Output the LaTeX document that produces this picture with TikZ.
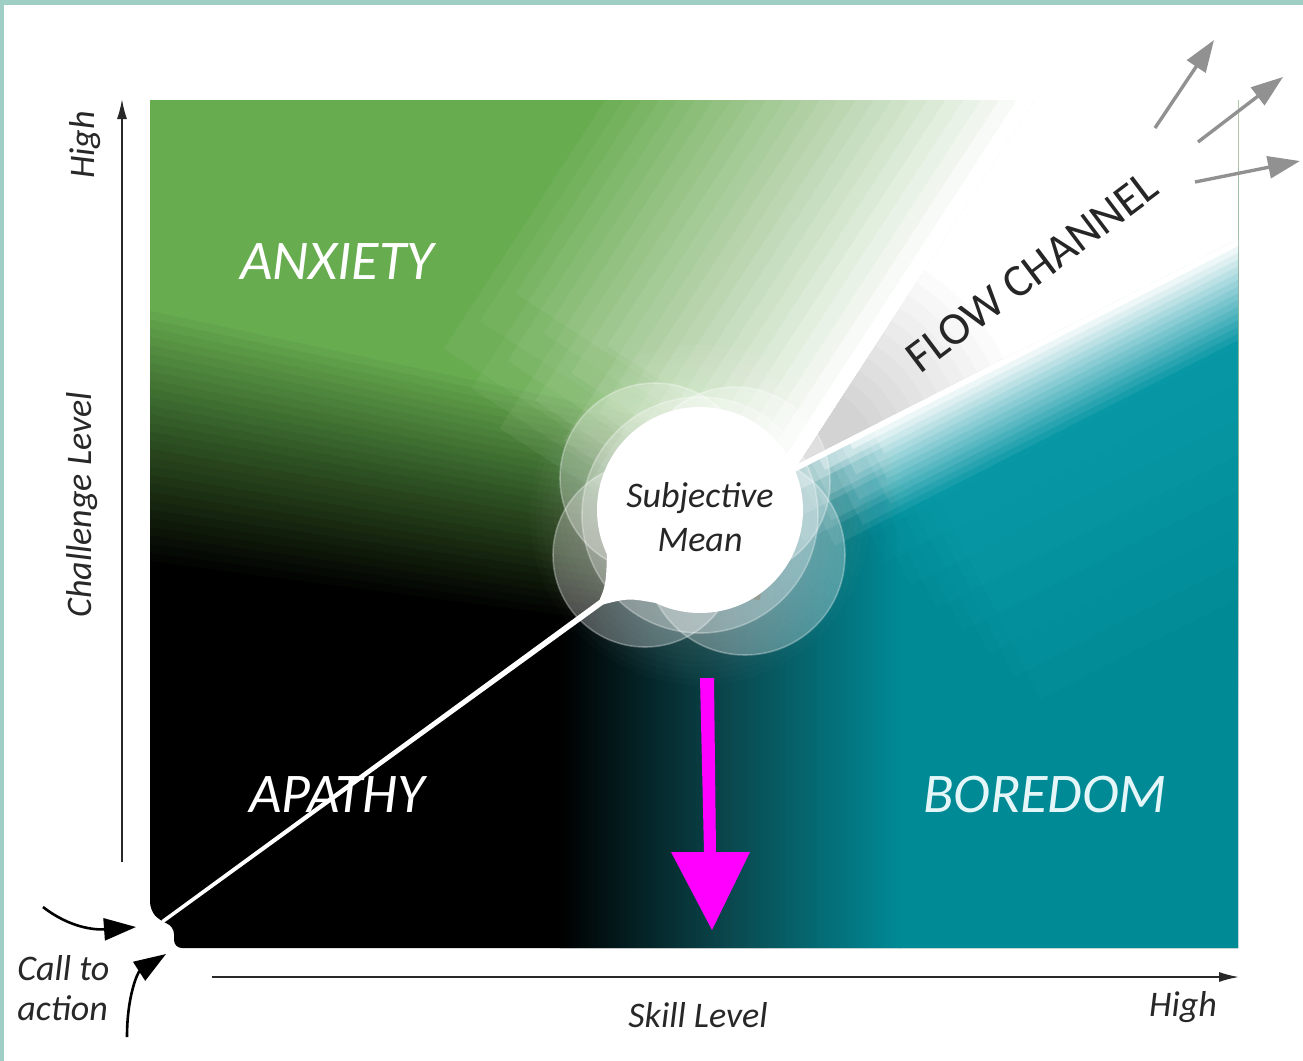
\documentclass[tikz,border=0pt]{standalone}
\usepackage{fontspec}
\setmainfont{Carlito}
\usetikzlibrary{arrows.meta}
\definecolor{greenc}{RGB}{104,172,80}
\definecolor{tealc}{RGB}{0,138,150}
\definecolor{tealdark}{RGB}{10,72,78}
\definecolor{tealglow}{RGB}{30,180,196}
\definecolor{framec}{RGB}{158,206,196}
\definecolor{axisc}{RGB}{40,40,40}
\definecolor{greyarrow}{RGB}{145,145,145}
\definecolor{boreC}{RGB}{228,246,248}
\definecolor{magentac}{RGB}{255,0,255}
\begin{document}
\begin{tikzpicture}[x=0.5pt,y=-0.5pt,
  axislbl/.style={text=axisc,font=\fontsize{18}{20}\selectfont\itshape,inner sep=0pt},
  zonelbl/.style={font=\fontsize{28}{30}\selectfont\itshape,inner sep=0pt},
  axisarrow/.style={draw=axisc,line width=0.8pt,-{Latex[length=10pt,width=5pt]}},
  callarrow/.style={draw=black,line width=1.3pt,-{Triangle[length=16pt,width=11pt]}},
  greyarr/.style={draw=greyarrow,line width=1.7pt,-{Triangle[length=16pt,width=11pt]}},
  cloud/.style={fill=white,fill opacity=0.28,draw=white,draw opacity=0.3,line width=0.8pt},
]
\useasboundingbox (0,0) rectangle (1303,1061);
\fill[white] (0,0) rectangle (1303,1061);
\fill[framec] (0,0) rectangle (1303,5);
\fill[framec] (0,0) rectangle (4,1061);

% ---------- chart body ----------
\begin{scope}
\clip (150,100) -- (1238,100) -- (1238,948) -- (600,948) [rounded corners=4pt] -- (174,948) -- (174,926) -- (160,921) -- (150,910) -- (150,850) [sharp corners] -- cycle;
\fill[black] (140,90) rectangle (1250,960);
% green, fading to black along a slanted band
\foreach \j in {1,...,30} {
  \pgfmathsetmacro\op{1/(31-\j)}
  \pgfmathsetmacro\f{(31-\j)/30}
  \pgfmathsetmacro\yl{300+260*\f}
  \pgfmathsetmacro\yr{\yl+(100-40*\f)*2.413}
  \fill[greenc,opacity=\op] (140,90) -- (1250,90) -- (1250,\yr) -- (140,\yl) -- cycle;
}
% teal part
\begin{scope}
\clip (470,698) -- (625,585) -- (760,600) -- (780,450) -- (1250,160) -- (1250,960) -- (470,960) -- cycle;
\shade[left color=black, right color=tealc, middle color=tealdark] (560,200) rectangle (900,960);
\fill[tealc] (899,150) rectangle (1250,960);
% lighter teal near the channel
\begin{scope}[shift={(799,463)},rotate=27]
\foreach \k in {1,...,10} {
  \pgfmathsetmacro\w{320*\k/10}
  \fill[tealglow,opacity=0.06] ({-20+0.4*\w},0) rectangle (1000,\w);
}
\end{scope}
\end{scope}
% glow round the bubble
\foreach \r in {110,116,...,170} \fill[white,opacity=0.015] (700,515) circle[radius=\r];
% whitening of the green side of the channel
\begin{scope}[shift={(799,463)},rotate=57]
\foreach \j in {1,...,24} {
  \pgfmathsetmacro\op{1/(25-\j)}
  \pgfmathsetmacro\w{360*(25-\j)/24}
  \pgfmathsetmacro\s{-140+mod(7*\j,24)*140/23}
  \fill[white,opacity=\op] (\s,0) rectangle (1000,-\w);
}
\end{scope}
% whitening of the teal side of the channel, core, stem
\begin{scope}[shift={(799,463)},rotate=27]
\foreach \j in {1,...,15} {
  \pgfmathsetmacro\op{1/(16-\j)}
  \pgfmathsetmacro\w{90*(16-\j)/15}
  \pgfmathsetmacro\s{-40+mod(4*\j,15)*120/14}
  \fill[white,opacity=\op] (\s,0) rectangle (1000,\w);
}
\fill[white] (0,0) -- (1400,0) -- (1400,-808.3) -- cycle;
\clip (0,0) -- (1400,0) -- (1400,-808.3) -- cycle;
\foreach \r in {80,95,...,230} \fill[black,opacity=0.016] (0,0) circle[radius=\r];
\end{scope}
\end{scope}

% ---------- subjective mean bubble ----------
\draw[cloud] (655,478) circle[radius=95];
\draw[cloud] (735,482) circle[radius=95];
\draw[cloud] (645,555) circle[radius=92];
\draw[cloud] (745,555) circle[radius=100];
\draw[cloud] (700,515) circle[radius=118];
\fill[white] (700,510) circle[radius=103];
\fill[white] (607,554) .. controls (606,585) .. (597,606) .. controls (628,598) .. (656,603) -- (700,510) -- cycle;
% diagonal line
\coordinate (L1) at (625,585);
\coordinate (L0) at (163,922);
\fill[white] (626.8,587.4) -- (162.5,923.8) -- (161.5,920.2) -- (623.2,582.6) -- cycle;
\node[font=\fontsize{18}{22}\selectfont\itshape,align=center,text=black!85] (subj) at (700,517) {Subjective\\Mean};

% ---------- zone labels ----------
\node[zonelbl,text=white] (anx) at (337,262) {ANXIETY};
\node[zonelbl,text=white] (apa) at (337,795) {APATHY};
\node[zonelbl,text=boreC] (bor) at (1045,795) {BOREDOM};
\node[font=\fontsize{23}{25}\selectfont,rotate=37,text=black!85] (flow) at (1032,272) {FLOW CHANNEL};

% ---------- magenta arrow ----------
\fill[magentac] (700,678) -- (714,678) -- (716,852) -- (750,852) -- (712,930) -- (671,852) -- (704,852) -- cycle;

% ---------- grey arrows ----------
\coordinate (g1a) at (1155,128); \coordinate (g1b) at (1214,40);
\coordinate (g2a) at (1198,142); \coordinate (g2b) at (1283,77);
\coordinate (g3a) at (1195,182); \coordinate (g3b) at (1300,161);
\draw[greyarr] (g1a) -- (g1b);
\draw[greyarr] (g2a) -- (g2b);
\draw[greyarr] (g3a) -- (g3b);

% ---------- axes ----------
\coordinate (ya0) at (122,862); \coordinate (ya1) at (122,99);
\coordinate (xa0) at (212,977); \coordinate (xa1) at (1239,977);
\draw[axisarrow] (ya0) -- (ya1);
\draw[axisarrow] (xa0) -- (xa1);
\node[axislbl,rotate=90] (high1) at (85,145) {High};
\node[axislbl,rotate=90] (chal) at (82,505) {Challenge Level};
\node[axislbl] (skill) at (698,1015) {Skill Level};
\node[axislbl] (high2) at (1183,1007) {High};
\node[axislbl,align=left,anchor=west] (cta) at (17,988) {Call to\\action};

% ---------- call to action arrows ----------
\coordinate (c1a) at (43,907); \coordinate (c1b) at (136,927);
\coordinate (c2a) at (127,1037); \coordinate (c2b) at (166,954);
\draw[callarrow] (c1a) .. controls (70,928) and (95,930) .. (c1b);
\draw[callarrow] (c2a) .. controls (127,995) and (138,972) .. (c2b);
\end{tikzpicture}
\end{document}
